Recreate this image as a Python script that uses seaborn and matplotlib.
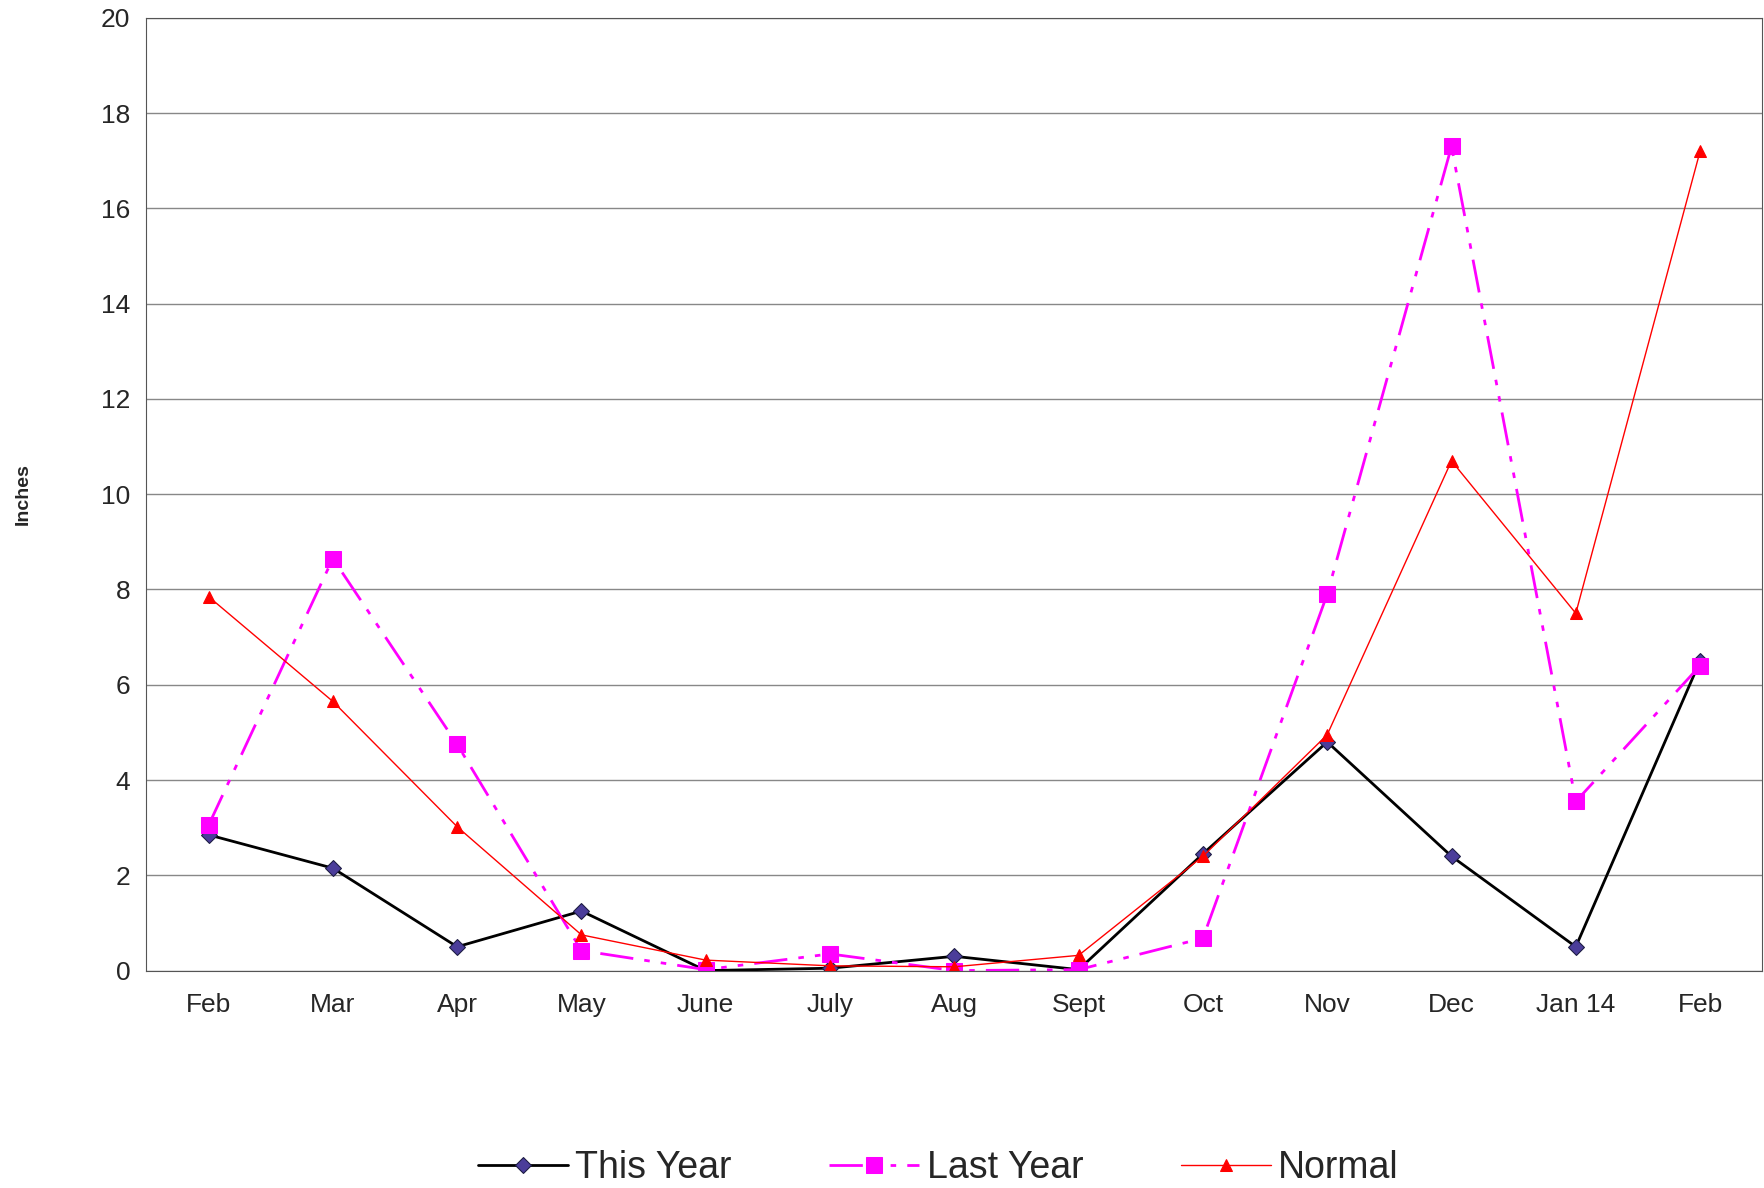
import numpy as np
import pandas as pd
import matplotlib
matplotlib.use('Agg')
import matplotlib.pyplot as plt
import seaborn as sns

months = ['Feb', 'Mar', 'Apr', 'May', 'June', 'July', 'Aug', 'Sept', 'Oct', 'Nov', 'Dec', 'Jan 14', 'Feb']
this_year = [2.85, 2.15, 0.5, 1.25, 0.0, 0.05, 0.3, 0.02, 2.45, 4.8, 2.4, 0.5, 6.5]
last_year = [3.05, 8.65, 4.75, 0.42, 0.02, 0.35, 0.0, 0.02, 0.68, 7.9, 17.3, 3.55, 6.4]
normal = [7.85, 5.65, 3.02, 0.75, 0.22, 0.1, 0.08, 0.32, 2.4, 4.95, 10.7, 7.5, 17.2]

sns.set_style('white')
plt.rcParams['font.family'] = ['Liberation Sans', 'DejaVu Sans']

fig = plt.figure(figsize=(17.64, 11.88), dpi=100)
ax = fig.add_axes([0.083, 0.183, 0.916, 0.802])

x = np.arange(len(months))
sns.lineplot(x=x, y=this_year, ax=ax, color='black', lw=2, marker='D', markersize=8,
             markerfacecolor='#4b3d9a', markeredgecolor='#1a1a40', label='This Year')
sns.lineplot(x=x, y=last_year, ax=ax, color='#ff00ff', lw=2, marker='s', markersize=11,
             markerfacecolor='#ff00ff', markeredgecolor='#ff00ff', label='Last Year')
ax.lines[-1].set_dashes([12, 4, 2, 4, 2, 4])
sns.lineplot(x=x, y=normal, ax=ax, color='red', lw=1, marker='^', markersize=8,
             markerfacecolor='red', markeredgecolor='red', label='Normal')

ax.set_xlim(-0.5, len(months) - 0.5)
ax.set_ylim(0, 20)
ax.set_yticks(range(0, 21, 2))
ax.yaxis.grid(True, color='#888888', lw=1)
ax.set_xticks(x)
ax.set_xticklabels(months, fontsize=19)
ax.set_xticks(np.arange(-0.5, len(months), 1), minor=True)
ax.tick_params(axis='x', which='major', length=0, pad=16)
ax.tick_params(axis='x', which='minor', length=8, direction='out', color='#555555')
ax.tick_params(axis='y', labelsize=19, length=8, direction='out', color='#555555')
for s in ax.spines.values():
    s.set_color('#555555')
ax.set_ylabel('Inches', fontsize=14, fontweight='bold', labelpad=50)

ax.legend(loc='center', bbox_to_anchor=(0.49, -0.207), ncol=3, frameon=False,
          fontsize=27, handlelength=2.4, columnspacing=2.6, handletextpad=0.2)

fig.savefig('out.png', dpi=100)
